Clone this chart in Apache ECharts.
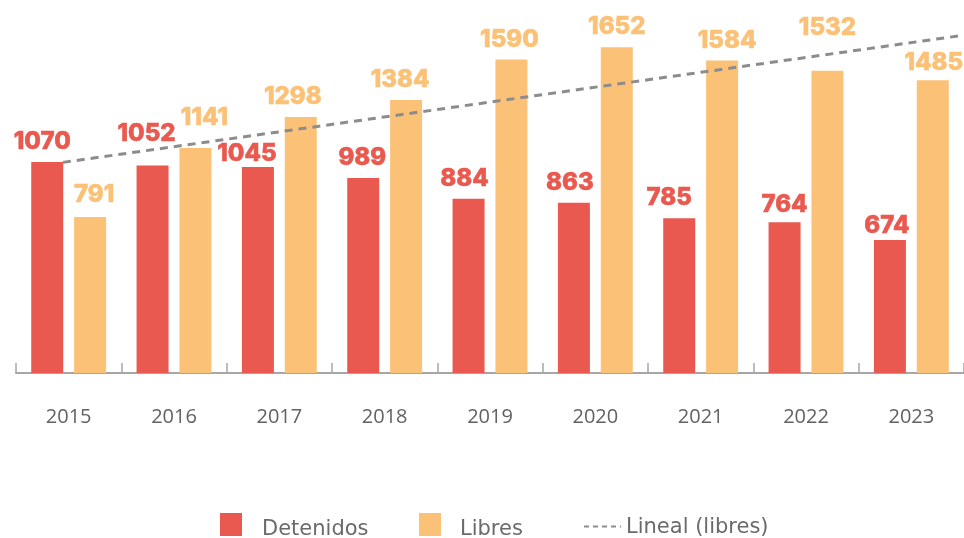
<!DOCTYPE html>
<html><head><meta charset="utf-8">
<script src="https://cdn.jsdelivr.net/npm/echarts@6/dist/echarts.min.js"></script>
<style>html,body{margin:0;padding:0;background:#fff}#c{width:964px;height:538px}</style>
</head><body><div id="c"></div>
<script>
const years = ['2015','2016','2017','2018','2019','2020','2021','2022','2023'];
const detenidos = [1070,1052,1045,989,884,863,785,764,674];
const libres = [791,1141,1298,1384,1590,1652,1584,1532,1485];
// trend line end points: [category position, value]
const trendX = [0.445, 9];
const trendY = [1068, 1713];
// label nudges (style only), [dx, dy] in pixels
const nudgeDet = [[-5,0],[-6,-12],[-11,7],[-1,0],[-4,0],[-4,0],[-10,0],[0,2],[-3,6]];
const nudgeLib = [[4,-2],[9,-10],[-8,0],[-6,0],[-2,0],[0,0],[5,0],[0,-23],[1,3]];

const RED = '#E9594F', YEL = '#FBC177', GREY_TXT = '#626262';
const chart = echarts.init(document.getElementById('c'));
const lbl = (c) => ({show:true, position:'top', distance:8, color:c, fontFamily:'Inter', fontWeight:800, fontSize:24,
  textBorderColor:c, textBorderWidth:0.6});
const withNudge = (vals, nudges) => vals.map((v,i)=>({value:v, label:{offset:nudges[i]}}));
const legText = (padT, padL) => ({rich:{a:{color:'#6a6a6a', fontFamily:'DejaVu Sans', fontSize:21, padding:[padT,0,0,padL]}}});
chart.setOption({
  animation:false,
  grid:{left:16, right:-2, top:18, bottom:165, containLabel:false},
  xAxis:[{
    type:'category', data:years,
    axisLine:{lineStyle:{color:'#a6a6a6', width:2}},
    axisTick:{show:true, inside:true, length:10, lineStyle:{color:'#a6a6a6', width:1.5}},
    axisLabel:{color:GREY_TXT, fontFamily:'Open Sans', fontSize:20, margin:34}
  },{
    type:'value', min:0, max:9, show:false
  }],
  yAxis:{type:'value', min:0, max:1800, show:false, splitLine:{show:false}},
  legend:[
    {data:[{name:'Detenidos', icon:'rect'}], left:220, top:513, padding:0, itemWidth:22, itemHeight:23, itemGap:0,
     formatter:'{a|{name}}', textStyle:legText(10, 15)},
    {data:[{name:'Libres', icon:'rect'}], left:419, top:513, padding:0, itemWidth:22, itemHeight:23, itemGap:0,
     formatter:'{a|{name}}', textStyle:legText(10, 14)},
    {data:['Lineal (libres)'], left:583, top:517, padding:0, itemWidth:37, itemHeight:23, itemGap:0,
     itemStyle:{opacity:0},
     lineStyle:{color:'#8c8c8c', width:2, type:[5,4]},
     formatter:'{a|{name}}', textStyle:legText(2, 0)}
  ],
  series:[
    {name:'Detenidos', type:'bar', data:withNudge(detenidos, nudgeDet), barWidth:32, barGap:'34%',
     itemStyle:{color:RED}, label:lbl(RED)},
    {name:'Libres', type:'bar', data:withNudge(libres, nudgeLib), barWidth:32, barGap:'34%',
     itemStyle:{color:YEL}, label:lbl(YEL)},
    {name:'Lineal (libres)', type:'line', xAxisIndex:1, symbol:'none',
     data:trendX.map((x,i)=>[x,trendY[i]]),
     lineStyle:{color:'#8c8c8c', width:3, type:[8,6]}, itemStyle:{color:'#8c8c8c'}, z:5}
  ]
});
</script></body></html>
